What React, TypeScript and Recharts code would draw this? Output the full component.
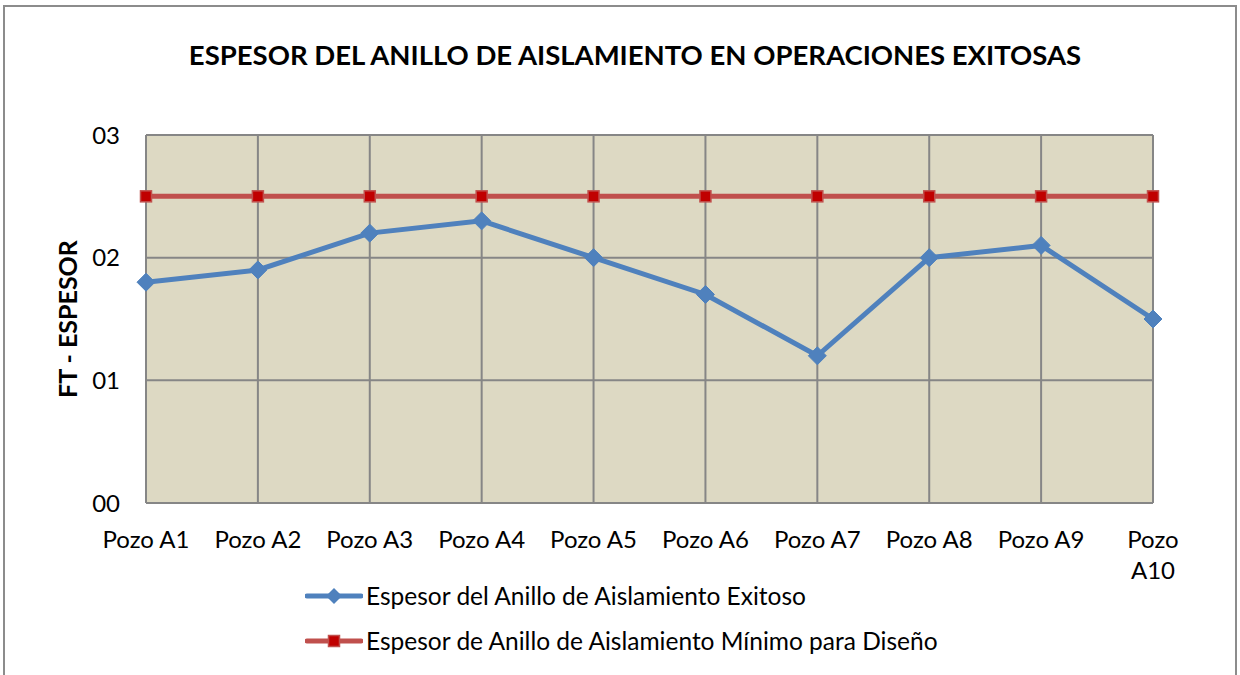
import { CartesianGrid, Line, LineChart, XAxis, YAxis } from "recharts";

const pozos = ["Pozo A1", "Pozo A2", "Pozo A3", "Pozo A4", "Pozo A5", "Pozo A6", "Pozo A7", "Pozo A8", "Pozo A9", "Pozo A10"];
const exitoso = [1.8, 1.9, 2.2, 2.3, 2.0, 1.7, 1.2, 2.0, 2.1, 1.5];
const minimo = [2.5, 2.5, 2.5, 2.5, 2.5, 2.5, 2.5, 2.5, 2.5, 2.5];
const yTicks = [0, 1, 2, 3];

const data = pozos.map((p, i) => ({ pozo: p, exitoso: exitoso[i], minimo: minimo[i] }));

const FONT = "Lato, 'Open Sans', sans-serif";
const BLUE = "#4F81BD";
const RED = "#C0504D";

const Diamond = (props: any) => {
  const { cx, cy } = props;
  if (cx == null || cy == null) return null;
  const r = 9;
  return <polygon points={`${cx},${cy - r} ${cx + r},${cy} ${cx},${cy + r} ${cx - r},${cy}`} fill={BLUE} stroke={BLUE} strokeWidth={1} />;
};

const Square = (props: any) => {
  const { cx, cy } = props;
  if (cx == null || cy == null) return null;
  return <rect x={cx - 5.5} y={cy - 5.5} width={11} height={11} fill="#C00000" stroke={RED} strokeWidth={1.5} />;
};

const XTick = (props: any) => {
  const { x, y, payload } = props;
  const v: string = payload.value;
  const lines = v.length > 7 ? v.split(" ") : [v];
  return (
    <text x={x} y={y} textAnchor="middle" fontFamily={FONT} fontSize={24} fill="#000">
      {lines.map((l, i) => (
        <tspan key={i} x={x} dy={i === 0 ? 37 : 31}>{l}</tspan>
      ))}
    </text>
  );
};

const LegendBox = () => (
  <div style={{ position: "absolute", left: 305, top: 573, fontFamily: FONT, fontSize: 24.5, color: "#000", whiteSpace: "nowrap" }}>
    <div style={{ display: "flex", alignItems: "center", height: 45 }}>
      <svg width={58} height={20}>
        <line x1={2} y1={10} x2={56} y2={10} stroke={BLUE} strokeWidth={5} strokeLinecap="round" />
        <polygon points="29,2 37,10 29,18 21,10" fill={BLUE} />
      </svg>
      <span style={{ marginLeft: 3 }}>Espesor del Anillo de Aislamiento Exitoso</span>
    </div>
    <div style={{ display: "flex", alignItems: "center", height: 45 }}>
      <svg width={58} height={20}>
        <line x1={2} y1={10} x2={56} y2={10} stroke={RED} strokeWidth={5} strokeLinecap="round" />
        <rect x={23.5} y={4.5} width={11} height={11} fill="#C00000" stroke={RED} strokeWidth={1.5} />
      </svg>
      <span style={{ marginLeft: 3 }}>Espesor de Anillo de Aislamiento Mínimo para Diseño</span>
    </div>
  </div>
);

export default function App() {
  return (
    <div style={{ position: "absolute", left: 0, top: 0, width: 1240, height: 675, background: "#fff", overflow: "hidden" }}>
      <div style={{ position: "absolute", left: 3, top: 5, width: 1230, height: 700, border: "2px solid #8c8c8c" }} />
      <div style={{ position: "absolute", left: 0, top: 0 }}>
        <LineChart width={1240} height={675} data={data} margin={{ top: 135, right: 87, bottom: 142, left: 86 }}>
          <text x={635} y={65} textAnchor="middle" fontFamily={FONT} fontWeight="bold" fontSize={27.5} fill="#000">
            ESPESOR DEL ANILLO DE AISLAMIENTO EN OPERACIONES EXITOSAS
          </text>
          <text x={77} y={319} transform="rotate(-90 77 319)" textAnchor="middle" fontFamily={FONT} fontWeight="bold" fontSize={25} fill="#000">
            FT - ESPESOR
          </text>
          <CartesianGrid fill="#DDD9C3" stroke="#868686" strokeWidth={2} />
          <XAxis dataKey="pozo" height={30} axisLine={false} tickLine={false} tick={<XTick />} interval={0} />
          <YAxis
            width={60}
            domain={[0, 3]}
            ticks={yTicks}
            axisLine={false}
            tickLine={false}
            tickSize={0}
            tickMargin={26}
            tickFormatter={(v: number) => "0" + v}
            tick={{ fontFamily: FONT, fontSize: 24, fill: "#000" }}
          />
          <Line dataKey="exitoso" stroke={BLUE} strokeWidth={5} dot={<Diamond />} isAnimationActive={false} />
          <Line dataKey="minimo" stroke={RED} strokeWidth={5} dot={<Square />} isAnimationActive={false} />
        </LineChart>
      </div>
      <LegendBox />
    </div>
  );
}
